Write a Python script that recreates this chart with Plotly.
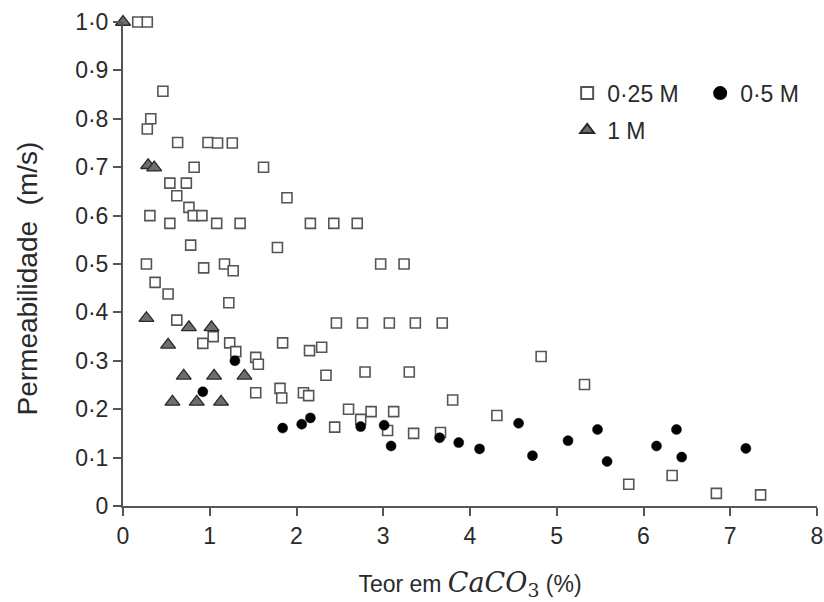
import plotly.graph_objects as go

# CaCO3 content (%) and permeability (m/s) per acid concentration
x_025 = [0.17, 0.28, 0.46, 0.32, 0.28, 0.63, 0.98, 1.09, 1.26, 0.82, 1.62, 0.54, 0.73,
         0.62, 1.89, 0.76, 0.31, 0.81, 0.91, 0.54, 1.08, 1.35, 0.78, 1.78, 0.27, 0.93,
         1.17, 1.27, 0.37, 0.52, 1.22, 0.62, 0.92, 1.04, 1.23, 1.30, 1.84, 1.53, 1.56,
         1.53, 1.81, 1.83, 2.08, 2.14, 2.16, 2.43, 2.70, 2.97, 3.24, 2.46, 2.76, 3.07,
         3.37, 3.68, 2.15, 2.29, 2.34, 2.79, 3.30, 3.80, 2.60, 2.86, 3.12, 2.74, 2.44,
         3.05, 3.35, 3.66, 4.31, 4.82, 5.32, 5.83, 6.33, 6.84, 7.35]
y_025 = [1.0, 1.0, 0.857, 0.80, 0.779, 0.751, 0.751, 0.75, 0.75, 0.70, 0.70, 0.667, 0.667,
         0.641, 0.637, 0.617, 0.60, 0.60, 0.60, 0.584, 0.584, 0.584, 0.539, 0.534, 0.50, 0.492,
         0.50, 0.486, 0.462, 0.438, 0.42, 0.384, 0.336, 0.35, 0.337, 0.319, 0.337, 0.307, 0.293,
         0.234, 0.243, 0.223, 0.234, 0.228, 0.584, 0.584, 0.584, 0.50, 0.50, 0.378, 0.378, 0.378,
         0.378, 0.378, 0.321, 0.328, 0.27, 0.277, 0.277, 0.219, 0.20, 0.195, 0.195, 0.179, 0.163,
         0.156, 0.150, 0.152, 0.187, 0.309, 0.251, 0.045, 0.063, 0.026, 0.023]

x_05 = [1.29, 0.92, 1.84, 2.06, 2.16, 2.74, 3.01, 3.09, 3.65, 3.87, 4.11, 4.56, 4.72,
        5.13, 5.47, 5.58, 6.15, 6.38, 6.44, 7.18]
y_05 = [0.300, 0.236, 0.161, 0.169, 0.182, 0.164, 0.167, 0.124, 0.141, 0.131, 0.118, 0.171,
        0.104, 0.135, 0.158, 0.092, 0.124, 0.158, 0.101, 0.119]

x_1 = [0.0, 0.29, 0.36, 0.27, 0.76, 1.02, 0.52, 0.70, 1.05, 1.40, 0.57, 0.85, 1.13]
y_1 = [1.0, 0.704, 0.699, 0.388, 0.369, 0.369, 0.333, 0.269, 0.269, 0.269, 0.215, 0.215, 0.215]

y_ticks = [0, 0.1, 0.2, 0.3, 0.4, 0.5, 0.6, 0.7, 0.8, 0.9, 1.0]
y_tick_text = ["0", "0·1", "0·2", "0·3", "0·4", "0·5", "0·6", "0·7", "0·8", "0·9", "1·0"]
x_ticks = [0, 1, 2, 3, 4, 5, 6, 7, 8]

AXIS = "#555555"
TEXT = "#2a2a2a"
FONT = "Liberation Sans, Arial, sans-serif"
FS = 23

fig = go.Figure()
fig.add_trace(go.Scatter(
    x=x_025, y=y_025, mode="markers", name="0·25 M", cliponaxis=False,
    marker=dict(symbol="square", size=10, color="white",
                line=dict(color="#555555", width=1.6)),
    legend="legend",
))
fig.add_trace(go.Scatter(
    x=x_05, y=y_05, mode="markers", name="0·5 M", cliponaxis=False,
    marker=dict(symbol="circle", size=10, color="black",
                line=dict(color="black", width=0.5)),
    legend="legend",
))
fig.add_trace(go.Scatter(
    x=x_1, y=y_1, mode="markers", name="1 M", cliponaxis=False,
    marker=dict(symbol="triangle-up", size=13, color="#6e6e6e",
                line=dict(color="#2a2a2a", width=1.3)),
    legend="legend2",
))

axis_common = dict(
    showline=True, linecolor=AXIS, linewidth=2,
    ticks="outside", tickcolor=AXIS, tickwidth=2, ticklen=8,
    showgrid=False, zeroline=False,
    tickfont=dict(family=FONT, size=FS, color=TEXT),
)

fig.update_xaxes(
    range=[0, 8], tickvals=x_ticks, **axis_common,
    title=dict(
        text="Teor em <span style=\"font-family:'DejaVu Serif';font-size:27px\">"
             "<i>CaCO</i><sub>3</sub></span> (%)",
        font=dict(family=FONT, size=FS, color=TEXT), standoff=28,
    ),
)
fig.update_yaxes(
    range=[0, 1.0], tickvals=y_ticks, ticktext=y_tick_text, **axis_common,
)

# vertical axis title placed beside the tick labels
fig.add_annotation(
    text="Permeabilidade  (m/s)", textangle=-90,
    xref="paper", yref="paper", x=0, y=0.47,
    xanchor="center", yanchor="middle", xshift=-95, showarrow=False,
    font=dict(family=FONT, size=28, color=TEXT),
)

legend_style = dict(
    orientation="h", bgcolor="rgba(0,0,0,0)",
    font=dict(family=FONT, size=FS, color=TEXT),
    itemsizing="constant", xanchor="left", yanchor="middle",
    entrywidth=88, entrywidthmode="pixels",
)
fig.update_layout(
    width=824, height=602,
    margin=dict(l=123, r=7, t=22, b=96, autoexpand=False),
    paper_bgcolor="white", plot_bgcolor="white",
    showlegend=True,
    legend=dict(x=0.64, y=0.853, **legend_style),
    legend2=dict(x=0.64, y=0.777, **legend_style),
)

fig.write_html("out.html")
